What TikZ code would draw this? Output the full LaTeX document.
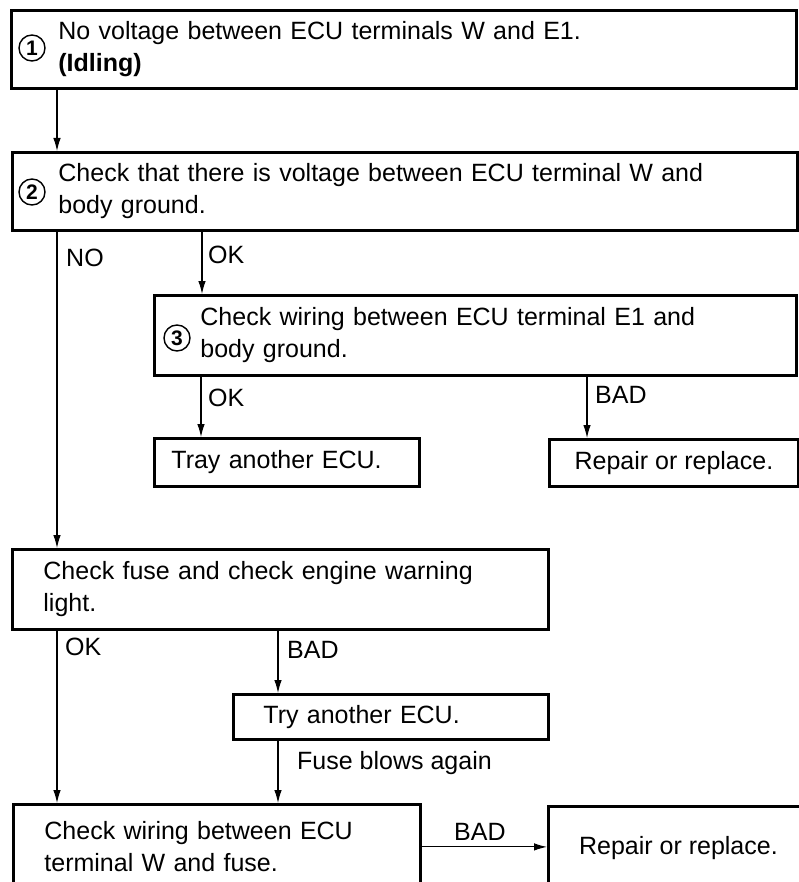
\documentclass[tikz,border=0pt]{standalone}
\usepackage{fontspec}
\setmainfont{Liberation Sans}
\usetikzlibrary{arrows.meta}

\begin{document}
        \begin{tikzpicture}[x = 1pt, y = -1pt, font = \fontsize{25}{32}\selectfont,
            box/.style = {draw, line width = 2.8pt, anchor = north west, align = left, inner ysep = 0pt},
            num/.style = {draw, circle, line width = 1.4pt, inner sep = 0pt, minimum size = 26pt, font = \fontsize{21}{21}\selectfont\bfseries},
            lbl/.style = {anchor = west, inner sep = 0pt},
            arr/.style = {line width = 1.1pt, -{Latex[length = 13pt, width = 7.5pt]}}]
            \useasboundingbox (0,0) rectangle (798,882);
            \node[box, minimum width = 785pt, minimum height = 78pt, inner xsep = 47pt, text width = 691pt] (warn) at (10,9) {No voltage between ECU terminals W and E1.\\ \textbf{(Idling)}};
            \node[box, minimum width = 785pt, minimum height = 78pt, inner xsep = 46pt, text width = 693pt] (checkw) at (11,151) {Check that there is voltage between ECU terminal W and\\ body ground.};
            \node[box, minimum width = 642pt, minimum height = 80pt, inner xsep = 46pt, text width = 550pt] (checke) at (153,294) {Check wiring between ECU terminal E1 and\\ body ground.};
            \node[box, minimum width = 265pt, minimum height = 48pt, inner xsep = 17pt, text width = 231pt] (tray) at (153,437) {Tray another ECU.};
            \node[box, minimum width = 249pt, minimum height = 47pt, align = center] (repaira) at (548,438) {Repair or replace.};
            \node[box, minimum width = 536pt, minimum height = 80pt, inner xsep = 31pt, text width = 474pt] (fuse) at (11,548) {Check fuse and check engine warning\\ light.};
            \node[box, minimum width = 315pt, minimum height = 45pt, inner xsep = 30pt, text width = 255pt] (tryecu) at (232,693) {Try another ECU.};
            \node[box, minimum width = 407pt, minimum height = 85pt, inner xsep = 31pt, text width = 345pt] (wiring) at (12,803) {Check wiring between ECU\\ terminal W and fuse.};
            \node[box, minimum width = 260pt, minimum height = 83pt, align = center] (repairb) at (547,805) {Repair or replace.};
            \node[num] (n1) at (32,48) {1};
            \node[num] (n2) at (32,192) {2};
            \node[num] (n3) at (177,338) {3};
            \draw[arr] ([xshift = 47pt]warn.south west) -- ([xshift = 46pt]checkw.north west);
            \draw[arr] ([xshift = 46pt]checkw.south west) -- ([xshift = 46pt]fuse.north west);
            \draw[arr] ([xshift = 191pt]checkw.south west) -- ([xshift = 49pt]checke.north west);
            \draw[arr] ([xshift = 48pt]checke.south west) -- ([xshift = 48pt]tray.north west);
            \draw[arr] ([xshift = 434pt]checke.south west) -- ([xshift = 39pt]repaira.north west);
            \draw[arr] ([xshift = 46pt]fuse.south west) -- ([xshift = 45pt]wiring.north west);
            \draw[arr] ([xshift = 267pt]fuse.south west) -- ([xshift = 46pt]tryecu.north west);
            \draw[arr] ([xshift = 46pt]tryecu.south west) -- ([xshift = 266pt]wiring.north west);
            \draw[arr] (wiring.east) -- (wiring.east -| repairb.west);
            \node[lbl] (lno) at (66,258) {NO};
            \node[lbl] (lok) at (208,255) {OK};
            \node[lbl] (lokb) at (208,398) {OK};
            \node[lbl] (lbad) at (595,395) {BAD};
            \node[lbl] (lokc) at (65,647) {OK};
            \node[lbl] (lbadb) at (287,650) {BAD};
            \node[lbl] (lfuse) at (297,763) {Fuse blows again};
            \node[lbl] (lbadc) at (454,832) {BAD};
        \end{tikzpicture}
\end{document}
